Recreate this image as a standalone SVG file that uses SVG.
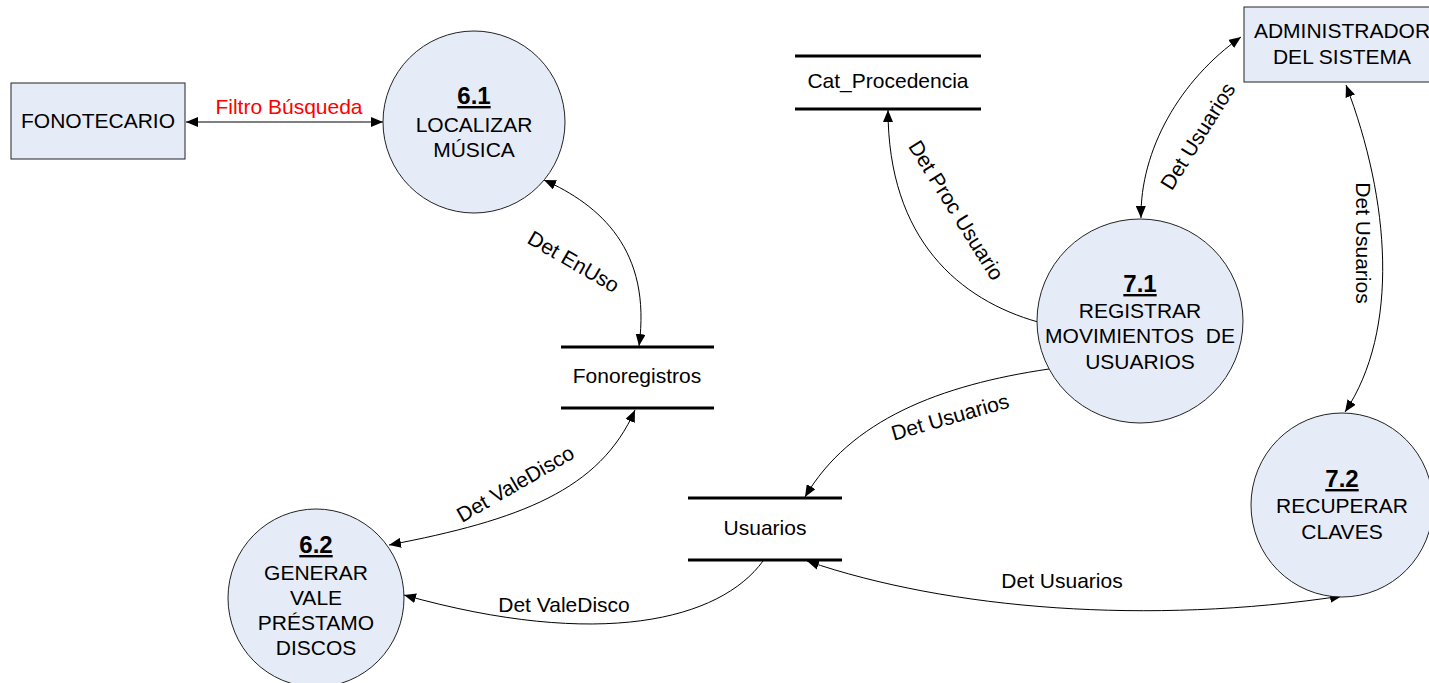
<svg xmlns="http://www.w3.org/2000/svg" width="1429" height="683" viewBox="0 0 1429 683">
  <style>
    .shape { fill: #e6ecf7; stroke: #222; stroke-width: 1; }
    .store { stroke: #000; stroke-width: 3; }
    .flow { fill: none; stroke: #000; stroke-width: 1; }
    text { font-family: "Liberation Sans", Arial, sans-serif; font-size: 21px; fill: #000; }
    .c { text-anchor: middle; }
    .num { font-weight: bold; font-size: 24px; text-decoration: underline; }
    .red { fill: #ff0000; }
  </style>
  <defs>
    <marker id="arrow" viewBox="0 0 12 10" refX="12" refY="5" markerWidth="12" markerHeight="10" markerUnits="userSpaceOnUse" orient="auto-start-reverse">
      <path d="M0,0 L12,5 L0,10 z" fill="#000"/>
    </marker>
  </defs>

  <rect width="1429" height="683" fill="#fff"/>

  <!-- data flows -->
  <g id="connectors">
    <path class="flow" d="M186,122 L383,122" marker-start="url(#arrow)" marker-end="url(#arrow)"/>
    <path class="flow" d="M544,180 C600,205 652,250 639,346" marker-start="url(#arrow)" marker-end="url(#arrow)"/>
    <path class="flow" d="M635,410 C600,490 520,520 389,545" marker-start="url(#arrow)" marker-end="url(#arrow)"/>
    <path class="flow" d="M763,561 C720,620 600,650 404,595" marker-end="url(#arrow)"/>
    <path class="flow" d="M1049,369 C940,385 850,420 805,497" marker-end="url(#arrow)"/>
    <path class="flow" d="M807,561 C950,610 1150,625 1342,596" marker-start="url(#arrow)" marker-end="url(#arrow)"/>
    <path class="flow" d="M1038,322 C960,300 888,240 888,110" marker-end="url(#arrow)"/>
    <path class="flow" d="M1241,37 C1180,80 1140,150 1141,218" marker-start="url(#arrow)" marker-end="url(#arrow)"/>
    <path class="flow" d="M1346,85 C1390,200 1400,330 1345,412" marker-start="url(#arrow)" marker-end="url(#arrow)"/>

    <text class="c red" x="289" y="114">Filtro Búsqueda</text>
    <text class="c" transform="translate(570,268) rotate(30)">Det EnUso</text>
    <text class="c" transform="translate(519,490) rotate(-30)">Det ValeDisco</text>
    <text class="c" x="564" y="612">Det ValeDisco</text>
    <text class="c" transform="translate(952,424) rotate(-16)">Det Usuarios</text>
    <text class="c" x="1062" y="588">Det Usuarios</text>
    <text class="c" transform="translate(950,214) rotate(58)">Det Proc Usuario</text>
    <text class="c" transform="translate(1204,140) rotate(-58)">Det Usuarios</text>
    <text class="c" transform="translate(1356,243) rotate(90)">Det Usuarios</text>
  </g>

  <!-- external entities -->
  <g id="fonotecario">
    <rect class="shape" x="11" y="83" width="174" height="76"/>
    <text class="c" x="98" y="128">FONOTECARIO</text>
  </g>
  <g id="administrador">
    <rect class="shape" x="1244" y="7" width="200" height="75"/>
    <text class="c" x="1342" y="38">ADMINISTRADOR</text>
    <text class="c" x="1342" y="64">DEL SISTEMA</text>
  </g>

  <!-- processes -->
  <g id="p61">
    <ellipse class="shape" cx="474" cy="122" rx="91" ry="91"/>
    <text class="c num" x="474" y="104">6.1</text>
    <text class="c" x="474" y="132">LOCALIZAR</text>
    <text class="c" x="474" y="157">MÚSICA</text>
  </g>
  <g id="p62">
    <ellipse class="shape" cx="316" cy="598" rx="88" ry="89"/>
    <text class="c num" x="316" y="553">6.2</text>
    <text class="c" x="316" y="580">GENERAR</text>
    <text class="c" x="316" y="605">VALE</text>
    <text class="c" x="316" y="630">PRÉSTAMO</text>
    <text class="c" x="316" y="655">DISCOS</text>
  </g>
  <g id="p71">
    <ellipse class="shape" cx="1140" cy="321" rx="103" ry="102"/>
    <text class="c num" x="1140" y="292">7.1</text>
    <text class="c" x="1140" y="318">REGISTRAR</text>
    <text class="c" x="1140" y="343" xml:space="preserve">MOVIMIENTOS  DE</text>
    <text class="c" x="1140" y="369">USUARIOS</text>
  </g>
  <g id="p72">
    <ellipse class="shape" cx="1342" cy="505" rx="91" ry="92"/>
    <text class="c num" x="1342" y="487">7.2</text>
    <text class="c" x="1342" y="513">RECUPERAR</text>
    <text class="c" x="1342" y="539">CLAVES</text>
  </g>

  <!-- data stores -->
  <g id="cat-procedencia">
    <line class="store" x1="795" y1="56" x2="981" y2="56"/>
    <line class="store" x1="795" y1="109" x2="981" y2="109"/>
    <text class="c" x="888" y="88">Cat_Procedencia</text>
  </g>
  <g id="fonoregistros">
    <line class="store" x1="561" y1="347" x2="714" y2="347"/>
    <line class="store" x1="561" y1="408" x2="714" y2="408"/>
    <text class="c" x="637" y="383">Fonoregistros</text>
  </g>
  <g id="usuarios">
    <line class="store" x1="688" y1="498" x2="842" y2="498"/>
    <line class="store" x1="688" y1="560" x2="842" y2="560"/>
    <text class="c" x="765" y="535">Usuarios</text>
  </g>
</svg>
